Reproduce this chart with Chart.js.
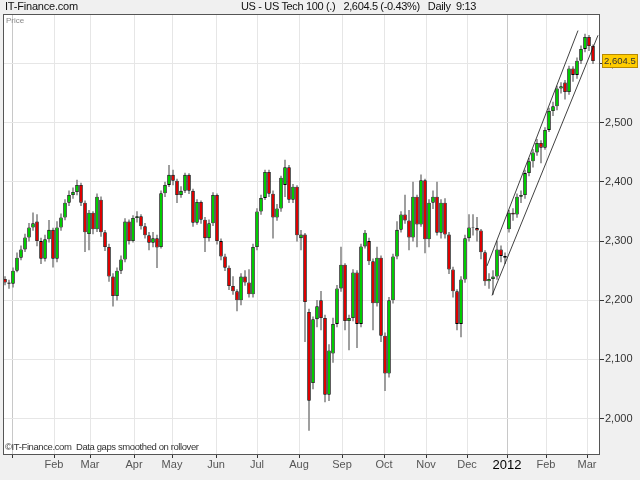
<!DOCTYPE html>
<html>
<head>
<meta charset="utf-8">
<script src="https://cdn.jsdelivr.net/npm/chart.js@4"></script>
<style>
  body { margin: 0; background: #f0f0f0; font-family: "Liberation Sans", Arial, sans-serif; }
  #wrap { position: relative; width: 640px; height: 480px; }
  #chart { position: absolute; left: 0; top: 0; }
  .txt { position: absolute; white-space: pre; color: #111; }
  #site { left: 5px; top: 0px; font-size: 11px; letter-spacing: -0.2px; }
  #title { left: 241px; top: 0px; font-size: 11px; letter-spacing: -0.35px; }
  #price { left: 6px; top: 16px; font-size: 8px; color: #888; }
  #note { left: 5px; top: 441px; font-size: 9.5px; letter-spacing: -0.4px; color: #333; }
</style>
</head>
<body>
<div id="wrap">
  <canvas id="chart" width="640" height="480"></canvas>
  <div class="txt" id="site">IT-Finance.com</div>
  <div class="txt" id="title">US - US Tech 100 (.)   2,604.5 (-0.43%)   Daily  9:13</div>
  <div class="txt" id="price">Price</div>
  <div class="txt" id="note">©IT-Finance.com  Data gaps smoothed on rollover</div>
</div>
<script>
// candles, roughly two trading days each, late Dec 2010 .. early Mar 2012
const opens = [2236,2230,2228,2250,2272,2286,2306,2323,2333,2300,
  2270,2303,2319,2270,2323,2340,2365,2378,2383,2395,
  2365,2312,2348,2320,2370,2315,2290,2240,2207,2250,
  2269,2333,2300,2339,2342,2325,2310,2297,2305,2290,
  2381,2395,2412,2402,2378,2385,2412,2385,2331,2366,
  2336,2305,2330,2378,2300,2274,2255,2224,2215,2200,
  2240,2230,2210,2290,2350,2373,2417,2380,2340,2355,
  2395,2425,2370,2392,2305,2311,2180,2060,2168,2200,
  2170,2040,2110,2160,2220,2260,2165,2170,2247,2160,
  2291,2300,2266,2195,2272,2140,2076,2200,2274,2319,
  2345,2335,2306,2375,2328,2403,2303,2365,2375,2314,
  2365,2311,2252,2215,2160,2235,2305,2323,2322,2318,
  2281,2232,2236,2240,2286,2275,2320,2348,2345,2375,
  2378,2415,2435,2450,2466,2458,2488,2520,2528,2558,
  2568,2552,2592,2581,2605,2625,2645,2630];
const highs = [2240,2234,2255,2280,2292,2312,2330,2348,2345,2305,
  2310,2335,2322,2333,2346,2370,2385,2390,2403,2398,
  2368,2352,2350,2380,2375,2318,2295,2245,2255,2275,
  2338,2336,2343,2350,2345,2330,2315,2315,2310,2385,
  2400,2428,2420,2405,2392,2415,2414,2388,2370,2368,
  2340,2336,2382,2380,2304,2278,2258,2240,2218,2245,
  2250,2252,2295,2355,2378,2420,2420,2385,2362,2410,
  2437,2428,2396,2394,2318,2313,2185,2172,2200,2215,
  2175,2125,2170,2225,2290,2262,2175,2252,2250,2295,
  2318,2305,2270,2290,2275,2145,2205,2278,2333,2350,
  2378,2352,2400,2378,2412,2405,2370,2385,2400,2370,
  2372,2315,2256,2218,2240,2310,2345,2345,2340,2320,
  2284,2245,2250,2300,2292,2280,2352,2355,2380,2385,
  2420,2440,2455,2472,2470,2492,2525,2535,2562,2568,
  2572,2596,2595,2610,2630,2650,2648,2632];
const lows = [2226,2220,2222,2248,2268,2282,2300,2318,2292,2262,
  2266,2298,2256,2265,2318,2336,2360,2372,2378,2360,
  2282,2285,2312,2316,2308,2284,2232,2190,2200,2245,
  2265,2295,2298,2332,2320,2305,2285,2290,2255,2288,
  2375,2392,2395,2365,2374,2382,2380,2325,2328,2330,
  2282,2300,2326,2295,2268,2250,2218,2210,2182,2192,
  2225,2205,2205,2285,2345,2370,2375,2305,2335,2350,
  2375,2365,2365,2300,2285,2130,1980,2050,2155,2150,
  2028,2030,2095,2155,2215,2150,2116,2165,2120,2155,
  2288,2260,2150,2190,2130,2047,2070,2195,2270,2315,
  2330,2285,2300,2290,2325,2280,2290,2355,2310,2305,
  2305,2245,2205,2150,2138,2230,2300,2310,2300,2270,
  2225,2220,2210,2235,2265,2262,2315,2335,2340,2365,
  2372,2410,2425,2445,2432,2455,2485,2512,2522,2550,
  2540,2548,2570,2575,2600,2620,2622,2600];
const closes = [2230,2228,2250,2272,2286,2306,2323,2330,2300,2270,
  2303,2319,2270,2323,2340,2365,2378,2383,2395,2365,
  2315,2348,2320,2375,2315,2290,2240,2207,2250,2269,
  2333,2300,2339,2342,2325,2310,2297,2305,2289,2381,
  2395,2412,2402,2378,2385,2412,2385,2331,2366,2336,
  2305,2330,2378,2300,2274,2255,2224,2215,2200,2240,
  2230,2210,2290,2350,2373,2417,2380,2340,2355,2407,
  2425,2370,2392,2310,2311,2197,2030,2168,2190,2170,
  2040,2115,2160,2220,2260,2165,2170,2247,2160,2291,
  2314,2266,2195,2272,2140,2076,2200,2274,2319,2345,
  2335,2306,2375,2328,2403,2303,2365,2375,2314,2365,
  2311,2252,2215,2160,2235,2305,2323,2322,2318,2281,
  2232,2236,2240,2286,2275,2272,2348,2345,2375,2378,
  2415,2435,2450,2466,2458,2488,2520,2528,2558,2562,
  2552,2592,2581,2605,2625,2645,2630,2604.5];

// month starts, in candle units
const monthPos = [1.75, 12.25, 21.25, 32.25, 41.75, 52.75, 63, 73.5, 84.25, 94.75, 105.25, 115.5, 125.5, 135.25, 145.5];
const monthLabels = ['', 'Feb', 'Mar', 'Apr', 'May', 'Jun', 'Jul', 'Aug', 'Sep', 'Oct', 'Nov', 'Dec', '2012', 'Feb', 'Mar'];
const priceTicks = [2000, 2100, 2200, 2300, 2400, 2500, 2600];

// trend channel drawn on the chart
const channelTop = [{x: 120.5, y: 2258}, {x: 143.25, y: 2656}];
const channelBottom = [{x: 121.75, y: 2208}, {x: 148.25, y: 2648}];

const lastPrice = closes[closes.length - 1];

const frame = {
    id: 'frame',
    beforeDraw(chart) {
        const {ctx, chartArea: a} = chart;
        ctx.save();
        ctx.fillStyle = '#fff';
        ctx.fillRect(a.left, a.top, a.right - a.left, a.bottom - a.top);
        ctx.restore();
    },
    afterDraw(chart) {
        const {ctx, chartArea: a} = chart;
        ctx.save();
        ctx.strokeStyle = '#555';
        ctx.lineWidth = 1;
        ctx.strokeRect(a.left + 0.5, a.top + 0.5, a.right - a.left - 1, a.bottom - a.top);
        // last price tag
        let y = Math.round(chart.scales.y.getPixelForValue(lastPrice));
        ctx.fillStyle = '#ffcc00';
        ctx.fillRect(a.right + 2, y - 7, 36, 14);
        ctx.strokeStyle = '#b88a00';
        ctx.strokeRect(a.right + 2.5, y - 6.5, 35, 13);
        ctx.fillStyle = '#333';
        ctx.font = '9.5px "Liberation Sans", Arial, sans-serif';
        ctx.textBaseline = 'middle';
        ctx.fillText(lastPrice.toLocaleString('en-US', {minimumFractionDigits: 1}), a.right + 4, y + 0.5);
        ctx.restore();
    }
};

new Chart(document.getElementById('chart'), {
    type: 'bar',
    data: {
        datasets: [
            {
                type: 'line',
                data: channelTop,
                borderColor: '#111',
                borderWidth: 0.8,
                pointRadius: 0,
                order: 0
            },
            {
                type: 'line',
                data: channelBottom,
                borderColor: '#111',
                borderWidth: 0.8,
                pointRadius: 0,
                order: 0
            },
            {
                data: opens.map((o, i) => ({x: i, y: [o, closes[i]]})),
                backgroundColor: c => (c.raw && c.raw.y[1] >= c.raw.y[0]) ? '#00cc00' : '#dd0000',
                borderColor: '#000',
                borderWidth: 0.8,
                borderSkipped: false,
                barPercentage: 0.9,
                categoryPercentage: 1,
                grouped: false,
                order: 1
            },
            {
                data: lows.map((l, i) => ({x: i, y: [l, highs[i]]})),
                backgroundColor: '#8c8c8c',
                barThickness: 1,
                grouped: false,
                order: 2
            }
        ]
    },
    options: {
        responsive: false,
        animation: false,
        layout: {padding: {left: 3, top: 14, right: 0, bottom: 0}},
        plugins: {legend: {display: false}, tooltip: {enabled: false}},
        scales: {
            x: {
                type: 'linear',
                offset: false,
                min: -0.5,
                max: 148.75,
                afterBuildTicks: s => { s.ticks = monthPos.map(v => ({value: v})); },
                afterFit: s => { s.height = 26; },
                ticks: {
                    autoSkip: false,
                    maxRotation: 0,
                    padding: 0,
                    color: c => c.index === 12 ? '#000' : '#555',
                    callback: (v, i) => monthLabels[i],
                    font: c => c.index === 12 ? {size: 13, family: '"Liberation Sans", Arial'} : {size: 11, family: '"Liberation Sans", Arial'}
                },
                grid: {
                    offset: false,
                    color: c => (c.index === 0 || c.index === 12) ? '#c8c8c8' : '#e6e6e6',
                    tickColor: '#333',
                    tickLength: 4
                },
                border: {display: false}
            },
            y: {
                type: 'linear',
                position: 'right',
                min: 1940,
                max: 2684,
                afterBuildTicks: s => { s.ticks = priceTicks.map(v => ({value: v})); },
                afterFit: s => { s.width = 40; },
                ticks: {
                    padding: 1,
                    color: '#333',
                    font: {size: 11, family: '"Liberation Sans", Arial'},
                    callback: v => v.toLocaleString('en-US')
                },
                grid: {color: '#e6e6e6', tickColor: '#333', tickLength: 4},
                border: {display: false}
            }
        }
    },
    plugins: [frame]
});
</script>
</body>
</html>
